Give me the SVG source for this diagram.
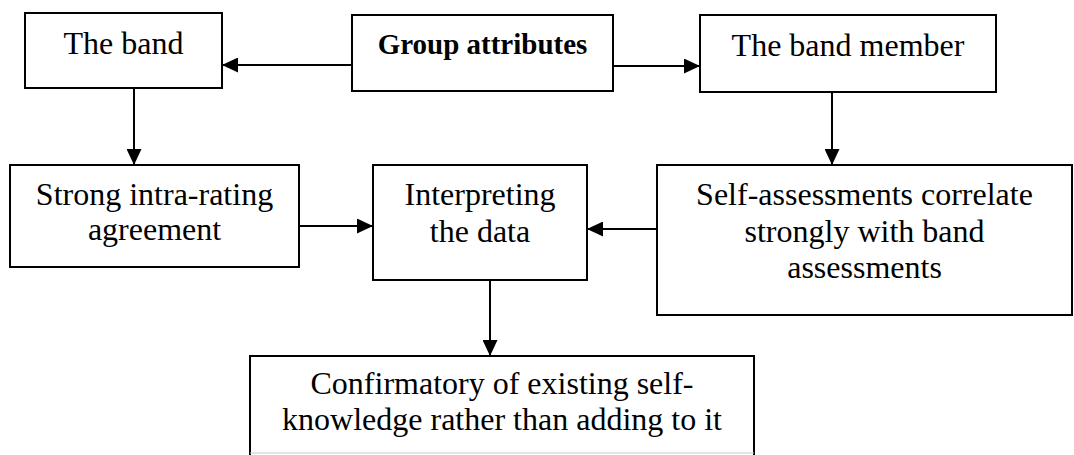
<svg xmlns="http://www.w3.org/2000/svg" width="1074" height="455" viewBox="0 0 1074 455">
  <style>
    .box { fill: #ffffff; stroke: #000000; stroke-width: 2; }
    .lbl { font-family: "Liberation Serif", "Times New Roman", serif; font-size: 32px; fill: #000000; text-anchor: middle; }
    .bold { font-weight: bold; font-size: 29px; }
    .conn { fill: none; stroke: #000000; stroke-width: 2; marker-end: url(#arrow); }
  </style>
  <defs>
    <marker id="arrow" markerUnits="userSpaceOnUse" markerWidth="16" markerHeight="15" refX="16" refY="7.5" orient="auto">
      <path d="M0,0 L16,7.5 L0,15 z" fill="#000000"/>
    </marker>
  </defs>
  <rect width="1074" height="455" fill="#ffffff"/>

  <!-- connectors -->
  <g id="connectors">
    <line class="conn" x1="352" y1="65" x2="222" y2="65"/>
    <line class="conn" x1="613" y1="66" x2="700" y2="66"/>
    <line class="conn" x1="134" y1="88" x2="134" y2="165"/>
    <line class="conn" x1="832" y1="92" x2="832" y2="165"/>
    <line class="conn" x1="299" y1="226" x2="373" y2="226"/>
    <line class="conn" x1="657" y1="229" x2="587" y2="229"/>
    <line class="conn" x1="490" y1="280" x2="490" y2="356"/>
  </g>

  <g id="band">
    <rect class="box" x="25" y="13" width="197" height="75"/>
    <text class="lbl" x="123.5" y="54">The band</text>
  </g>

  <g id="group-attributes">
    <rect class="box" x="352" y="15" width="261" height="76"/>
    <text class="lbl bold" x="482.5" y="54">Group attributes</text>
  </g>

  <g id="band-member">
    <rect class="box" x="700" y="15" width="296" height="77"/>
    <text class="lbl" x="848" y="56">The band member</text>
  </g>

  <g id="intra-rating">
    <rect class="box" x="10" y="165" width="289" height="102"/>
    <text class="lbl" x="154.5" y="205">Strong intra-rating</text>
    <text class="lbl" x="154.5" y="240">agreement</text>
  </g>

  <g id="interpreting">
    <rect class="box" x="373" y="165" width="214" height="115"/>
    <text class="lbl" x="480" y="205">Interpreting</text>
    <text class="lbl" x="480" y="242">the data</text>
  </g>

  <g id="self-assessments">
    <rect class="box" x="657" y="165" width="415" height="150"/>
    <text class="lbl" x="864.5" y="205">Self-assessments correlate</text>
    <text class="lbl" x="864.5" y="242">strongly with band</text>
    <text class="lbl" x="864.5" y="278">assessments</text>
  </g>

  <g id="confirmatory">
    <path d="M250,456 L250,356 L754,356 L754,456" fill="#ffffff" stroke="#000000" stroke-width="2"/>
    <line x1="250" y1="453" x2="754" y2="453" stroke="#c8c8c8" stroke-width="1"/>
    <text class="lbl" x="502" y="394">Confirmatory of existing self-</text>
    <text class="lbl" x="502" y="430">knowledge rather than adding to it</text>
  </g>
</svg>
